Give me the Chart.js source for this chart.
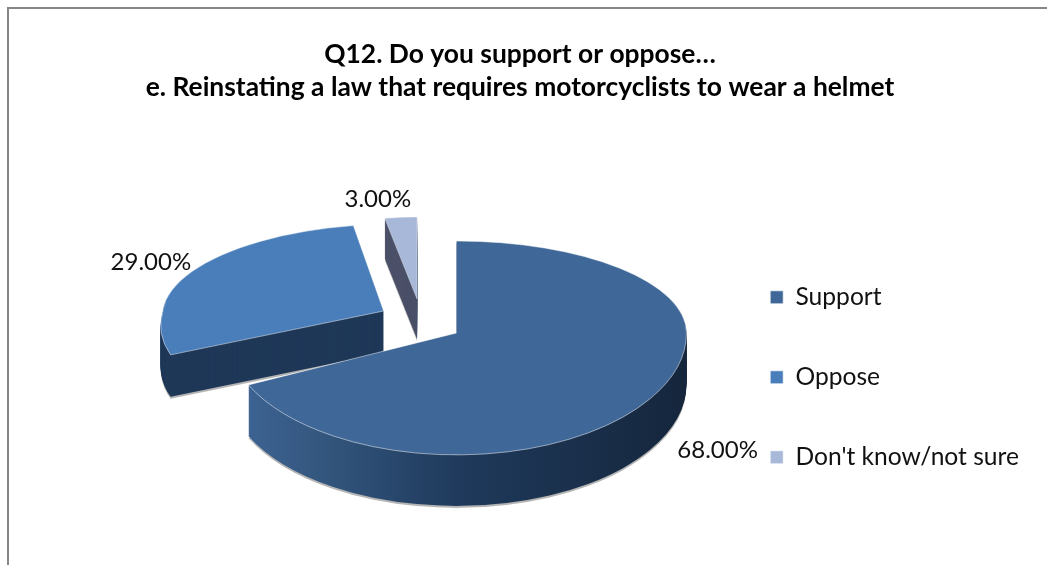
<!DOCTYPE html>
<html>
<head>
<meta charset="utf-8">
<script src="https://cdn.jsdelivr.net/npm/chart.js@4"></script>
<style>
  html,body{margin:0;padding:0;background:#fff;overflow:hidden}
  #wrap{position:relative;width:1047px;height:565px;overflow:hidden}
  #frame{position:absolute;left:7px;top:7px;width:1060px;height:580px;border:2px solid #868686}
  canvas{position:absolute;left:0;top:0}
</style>
</head>
<body>
<div id="wrap">
  <div id="frame"></div>
  <canvas id="c" width="1047" height="565"></canvas>
</div>
<script>
const titleLines = ['Q12. Do you support or oppose…', 'e. Reinstating a law that requires motorcyclists to wear a helmet'];
const categories = ['Support', 'Oppose', "Don't know/not sure"];
const shares = [68, 29, 3];

const topColors = ['#3f6797', '#4a7ebb', '#a7b8d8'];
const wallColors = [null, '#1f3858', '#4b5068'];

// fake 3D: each slice is squashed about its own apex, more toward the viewer than away
const tilt = {
  explode: 42, squash: 0.52, radius: 230,
  slices: [
    {sx: 1,    up: 0.40,  down: 0.53,  skewUp: 0,     skewDown: 0,    depth: 51},
    {sx: 0.96, up: 0.378, down: 0.448, skewUp: -0.13, skewDown: -0.3, depth: 42},
    {sx: 0.75, up: 0.357, down: 0.40,  skewUp: 0,     skewDown: 0,    depth: 40}
  ],
  labelShift: [[67, 52], [-36, -9], [-23, -18]]
};

const PIE_X = 421, PIE_Y = 321;

function apexOf(el){
  const mid = (el.startAngle + el.endAngle) / 2;
  return {
    x: PIE_X + Math.cos(mid) * tilt.explode,
    y: PIE_Y + Math.sin(mid) * tilt.explode * tilt.squash
  };
}

function paintSlice(chart, i, opts, dy){
  const ctx = chart.ctx, el = chart.getDatasetMeta(0).data[i], s = tilt.slices[i];
  const a = apexOf(el), split = Math.round(a.y) + dy;
  const face = Object.create(el);
  face.options = Object.assign({}, el.options, opts);
  [[0, split, s.up, s.skewUp], [split, chart.height - split, s.down, s.skewDown]].forEach(([top, h, k, skew]) => {
    ctx.save();
    ctx.beginPath();
    ctx.rect(0, top, chart.width, h);
    ctx.clip();
    ctx.translate(a.x, split);
    ctx.transform(s.sx, 0, skew * k, k, 0, 0);
    ctx.translate(-el.x, -el.y);
    face.draw(ctx);
    ctx.restore();
  });
}

const pie3d = {
  id: 'pie3d',
  beforeDatasetsDraw(chart){
    const ctx = chart.ctx, arcs = chart.getDatasetMeta(0).data;
    [2, 1, 0].forEach(i => {
      const el = arcs[i], s = tilt.slices[i];
      let wall = wallColors[i];
      if(!wall){
        wall = ctx.createLinearGradient(el.x - tilt.radius, 0, el.x + tilt.radius, 0);
        wall.addColorStop(0, '#3f6698');
        wall.addColorStop(0.2, '#34577f');
        wall.addColorStop(0.5, '#1f3a5c');
        wall.addColorStop(1, '#15263c');
      }
      paintSlice(chart, i, {backgroundColor: 'rgba(130,130,130,0.6)', borderWidth: 0}, s.depth + 2);
      for(let dy = s.depth; dy > 0; dy--){
        paintSlice(chart, i, {backgroundColor: wall, borderWidth: 0}, dy);
      }
      paintSlice(chart, i, {}, 0);
    });
    return false;
  },
  // returning false above also skips afterDatasetsDraw
  afterDraw(chart){
    const ctx = chart.ctx, arcs = chart.getDatasetMeta(0).data;
    ctx.save();
    ctx.font = '24px Lato';
    ctx.fillStyle = '#111';
    ctx.textAlign = 'center';
    ctx.textBaseline = 'middle';
    arcs.forEach((el, i) => {
      const s = tilt.slices[i], a = apexOf(el);
      const mid = (el.startAngle + el.endAngle) / 2;
      const sin = Math.sin(mid);
      const x = a.x + Math.cos(mid) * tilt.radius * s.sx + tilt.labelShift[i][0];
      const y = a.y + sin * tilt.radius * (sin < 0 ? s.up : s.down) + tilt.labelShift[i][1];
      ctx.fillText(shares[i].toFixed(2) + '%', x, y);
    });
    ctx.restore();
  }
};

new Chart(document.getElementById('c'), {
  type: 'pie',
  data: {
    labels: categories,
    datasets: [{
      data: shares,
      backgroundColor: topColors,
      borderColor: 'rgba(255,255,255,0.65)',
      borderWidth: 1,
      radius: tilt.radius,
      clip: false
    }]
  },
  options: {
    responsive: false,
    animation: false,
    layout: {padding: {left: 11, right: 18, top: 38, bottom: 40}},
    plugins: {
      tooltip: {enabled: false},
      title: {
        display: true,
        text: titleLines,
        color: '#000',
        font: {family: 'Lato', size: 26.4, weight: 'bold', lineHeight: 1.25},
        padding: {top: 0, bottom: 10}
      },
      legend: {
        position: 'right',
        align: 'end',
        labels: {
          color: '#111',
          font: {family: 'Lato', size: 24.6},
          boxWidth: 13,
          boxHeight: 13,
          padding: 55.4
        }
      }
    }
  },
  plugins: [pie3d]
});
</script>
</body>
</html>
